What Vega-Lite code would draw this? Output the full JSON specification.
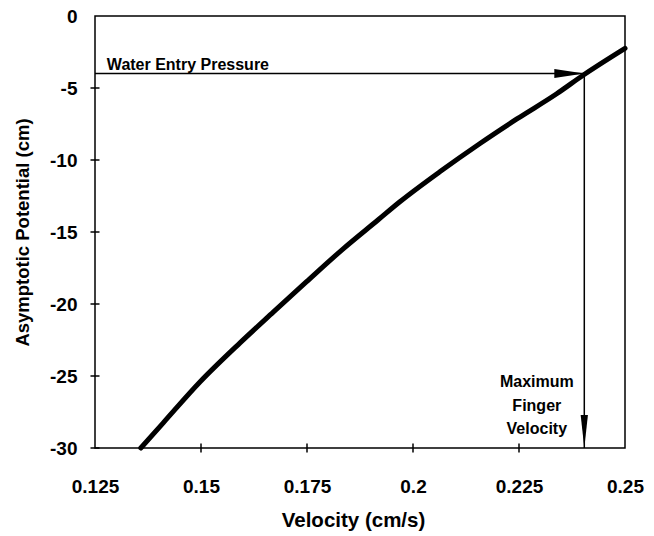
{
  "$schema": "https://vega.github.io/schema/vega-lite/v6.json",
  "width": 530,
  "height": 432,
  "autosize": {"type": "none"},
  "padding": {"left": 95, "top": 16, "right": 29, "bottom": 88},
  "background": "white",
  "config": {
    "view": {"stroke": "black", "strokeWidth": 1.5},
    "font": "Liberation Sans",
    "axis": {
      "grid": false,
      "domain": false,
      "ticks": false,
      "tickSize": 0,
      "labelFont": "Liberation Sans",
      "labelFontSize": 19,
      "labelFontWeight": "bold",
      "labelColor": "black",
      "labelFlush": false,
      "labelOverlap": false,
      "titleFont": "Liberation Sans",
      "titleFontWeight": "bold",
      "titleColor": "black"
    }
  },
  "datasets": {
    "curve": [
      {"v": 0.1358, "p": -30},
      {"v": 0.1411, "p": -28.25},
      {"v": 0.1498, "p": -25.4},
      {"v": 0.1592, "p": -22.7},
      {"v": 0.1671, "p": -20.55},
      {"v": 0.1749, "p": -18.45},
      {"v": 0.1836, "p": -16.15},
      {"v": 0.1918, "p": -14.15},
      {"v": 0.1969, "p": -12.9},
      {"v": 0.2064, "p": -10.8},
      {"v": 0.2158, "p": -8.85},
      {"v": 0.2245, "p": -7.15},
      {"v": 0.2339, "p": -5.4},
      {"v": 0.2402, "p": -4.1},
      {"v": 0.25, "p": -2.25}
    ],
    "xticks": [{"v": 0.15}, {"v": 0.175}, {"v": 0.2}, {"v": 0.225}],
    "yticks": [{"p": -5}, {"p": -10}, {"p": -15}, {"p": -20}, {"p": -25}, {"p": -30}],
    "arrows": [
      {"v": 0.125, "p": -4, "v2": 0.2404, "p2": -4},
      {"v": 0.2404, "p": -4, "v2": 0.2404, "p2": -30}
    ],
    "headH": [{"v": 0.2404, "p": -4}],
    "headV": [{"v": 0.2404, "p": -30}],
    "note1": [{"v": 0.1278, "p": -4, "label": "Water Entry Pressure"}],
    "note2": [{"v": 0.2292, "p": -25.44, "label": "Maximum\nFinger\nVelocity"}]
  },
  "layer": [
    {
      "data": {"name": "curve"},
      "mark": {"type": "line", "color": "black", "strokeWidth": 5, "interpolate": "monotone", "strokeCap": "round"},
      "encoding": {
        "x": {
          "field": "v", "type": "quantitative",
          "scale": {"domain": [0.125, 0.25], "nice": false, "zero": false},
          "axis": {
            "values": [0.125, 0.15, 0.175, 0.2, 0.225, 0.25],
            "labelExpr": "'' + datum.value",
            "labelPadding": 29,
            "title": "Velocity (cm/s)",
            "titleFontSize": 20.5,
            "titleX": 258,
            "titleY": 72,
            "titleBaseline": "middle",
            "titleAlign": "center"
          }
        },
        "y": {
          "field": "p", "type": "quantitative",
          "scale": {"domain": [-30, 0], "nice": false, "zero": false},
          "axis": {
            "values": [0, -5, -10, -15, -20, -25, -30],
            "labelExpr": "'' + datum.value",
            "labelPadding": 18,
            "title": "Asymptotic Potential (cm)",
            "titleFontSize": 18.5,
            "titleX": -73,
            "titleY": 216,
            "titleAngle": -90,
            "titleBaseline": "middle",
            "titleAlign": "center"
          }
        }
      }
    },
    {
      "data": {"name": "xticks"},
      "mark": {"type": "tick", "orient": "vertical", "size": 9, "thickness": 1.5, "color": "black", "opacity": 1},
      "encoding": {
        "x": {"field": "v", "type": "quantitative"},
        "y": {"datum": -30}
      }
    },
    {
      "data": {"name": "yticks"},
      "mark": {"type": "tick", "orient": "horizontal", "size": 9, "thickness": 1.5, "color": "black", "opacity": 1},
      "encoding": {
        "x": {"datum": 0.125},
        "y": {"field": "p", "type": "quantitative"}
      }
    },
    {
      "data": {"name": "arrows"},
      "mark": {"type": "rule", "color": "black", "strokeWidth": 1.5},
      "encoding": {
        "x": {"field": "v", "type": "quantitative"},
        "y": {"field": "p", "type": "quantitative"},
        "x2": {"field": "v2"},
        "y2": {"field": "p2"}
      }
    },
    {
      "data": {"name": "headH"},
      "mark": {"type": "point", "shape": "M 0 0 L -2 -0.3 L -2 0.3 Z", "size": 900, "filled": true, "color": "black", "opacity": 1, "strokeWidth": 0},
      "encoding": {
        "x": {"field": "v", "type": "quantitative"},
        "y": {"field": "p", "type": "quantitative"}
      }
    },
    {
      "data": {"name": "headV"},
      "mark": {"type": "point", "shape": "M 0 0 L -0.22 -2 L 0.22 -2 Z", "size": 1089, "filled": true, "color": "black", "opacity": 1, "strokeWidth": 0},
      "encoding": {
        "x": {"field": "v", "type": "quantitative"},
        "y": {"field": "p", "type": "quantitative"}
      }
    },
    {
      "data": {"name": "note1"},
      "mark": {"type": "text", "align": "left", "baseline": "alphabetic", "dy": -4, "fontSize": 16, "fontWeight": "bold", "font": "Liberation Sans", "color": "black"},
      "encoding": {
        "x": {"field": "v", "type": "quantitative"},
        "y": {"field": "p", "type": "quantitative"},
        "text": {"field": "label"}
      }
    },
    {
      "data": {"name": "note2"},
      "mark": {"type": "text", "align": "center", "baseline": "middle", "lineBreak": "\n", "lineHeight": 23.5, "fontSize": 16, "fontWeight": "bold", "font": "Liberation Sans", "color": "black"},
      "encoding": {
        "x": {"field": "v", "type": "quantitative"},
        "y": {"field": "p", "type": "quantitative"},
        "text": {"field": "label"}
      }
    }
  ]
}
